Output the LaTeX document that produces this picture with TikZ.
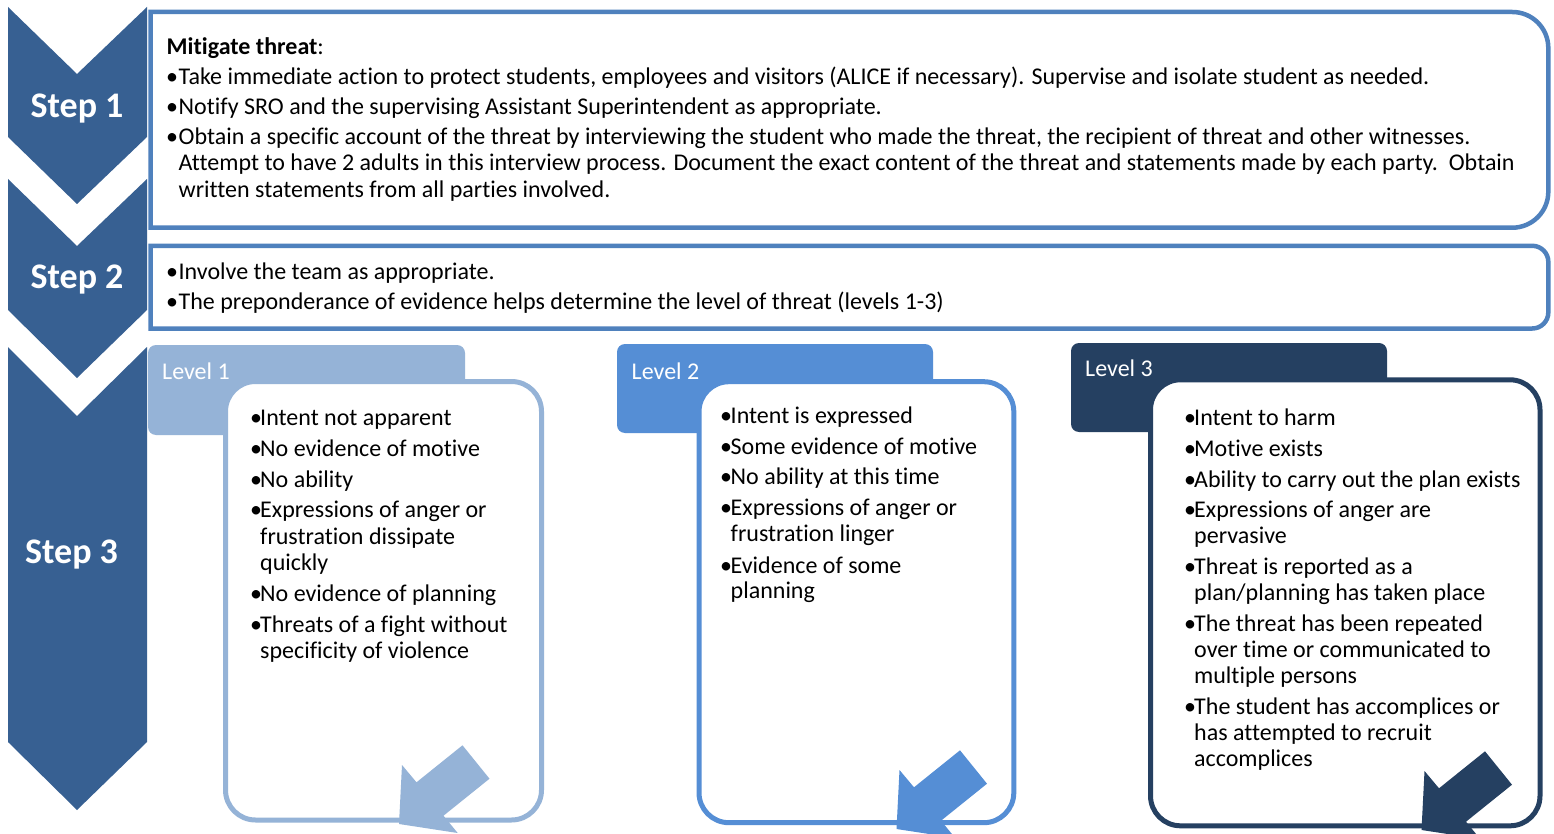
\documentclass[tikz,border=0pt]{standalone}
\usepackage{fontspec}
\setmainfont[Ligatures={NoCommon}]{Carlito}
\definecolor{chev}{HTML}{376092}
\definecolor{stepc}{HTML}{4F81BD}
\definecolor{lone}{HTML}{95B3D7}
\definecolor{ltwo}{HTML}{558ED5}
\definecolor{lthree}{HTML}{254061}
\newcommand\bulw[1]{\makebox[#1pt][l]{\textbullet}}
\newcommand\levelarrow[3]{%
  \fill[#3, shift={(#1,#2)}] (-13.5,-16.7) -- (13.5,16.7) -- (-32.5,53.7) -- (-18.3,71)
     -- (-77,62) -- (-74,3) -- (-59.5,20.3) -- cycle;}
\begin{document}
\begin{tikzpicture}[x=1pt,y=-1pt,
  txt/.style={anchor=base west, inner sep=0pt, yshift=-1.5pt, font=\fontsize{24}{26}\selectfont},
  hdr/.style={txt, text=white},
  steplbl/.style={anchor=base, inner sep=0pt, yshift=-1pt, text=white, font=\fontsize{36}{40}\selectfont\bfseries},
  stepbox/.style={draw=stepc, line width=4.5pt, fill=white},
  lvlbox/.style={fill=white, line width=5pt, rounded corners=30pt}]
\useasboundingbox (0,0) rectangle (1554,834);
\fill[white] (0,0) rectangle (1554,834);

% chevrons
\fill[chev] (8,7) -- (77,74) -- (147,7) -- (147,137) -- (77,204) -- (8,137) -- cycle;
\fill[chev] (8,179) -- (77,246) -- (147,179) -- (147,310) -- (77,378) -- (8,310) -- cycle;
\fill[chev] (8,347) -- (77,416) -- (147,347) -- (147,742) -- (77,810) -- (8,742) -- cycle;
\node[steplbl] (st1) at (77,117) {Step 1};
\node[steplbl] (st2) at (77,287) {Step 2};
\node[steplbl] (st3) at (71.5,562) {Step 3};

% step boxes
\draw[stepbox] (150.5,12) -- (1512.3,12) .. controls (1532.2,12) and (1548.3,28.1) .. (1548.3,48)
  -- (1548.3,191.7) .. controls (1548.3,211.6) and (1532.2,227.7) .. (1512.3,227.7) -- (150.5,227.7) -- cycle;
\draw[stepbox] (150.5,245.8) -- (1532.3,245.8) .. controls (1541.1,245.8) and (1548.3,253) .. (1548.3,261.8)
  -- (1548.3,312.5) .. controls (1548.3,321.3) and (1541.1,328.5) .. (1532.3,328.5) -- (150.5,328.5) -- cycle;

\node[txt] (s1h) at (166.5,53.3) {\textbf{Mitigate threat}:};
\node[txt] (s1a) at (166,83.3) {\bulw{12.5}Take immediate action to protect students, employees and visitors (ALICE if necessary). Supervise and isolate student as needed.};
\node[txt] (s1b) at (166,113.3) {\bulw{12.5}Notify SRO and the supervising Assistant Superintendent as appropriate.};
\node[txt] (s1c) at (166,143.3) {\bulw{12.5}Obtain a specific account of the threat by interviewing the student who made the threat, the recipient of threat and other witnesses.};
\node[txt] (s1d) at (178.5,169.5) {Attempt to have 2 adults in this interview process. Document the exact content of the threat and statements made by each party.\ \ Obtain};
\node[txt] (s1e) at (178.5,196) {written statements from all parties involved.};

\node[txt] (s2a) at (166,277.5) {\bulw{12.5}Involve the team as appropriate.};
\node[txt] (s2b) at (166,308) {\bulw{12.5}The preponderance of evidence helps determine the level of threat (levels 1-3)};

% level headers
\fill[lone, rounded corners=8pt] (148,345) rectangle (465,435);
\fill[ltwo, rounded corners=8pt] (617,344) rectangle (933,433);
\fill[lthree, rounded corners=8pt] (1071,343) rectangle (1387,432);
\node[hdr] (h1) at (162,378.3) {Level 1};
\node[hdr] (h2) at (631.5,378.3) {Level 2};
\node[hdr] (h3) at (1085,375) {Level 3};

% level boxes
\draw[lvlbox, draw=lone] (225.5,381.5) rectangle (541.5,820);
\draw[lvlbox, draw=ltwo] (699,381.7) rectangle (1013.8,822.7);
\draw[lvlbox, draw=lthree] (1150.5,379.8) rectangle (1540,825.8);

% level 1 text
\node[txt] (a1) at (250,424) {\bulw{10}Intent not apparent};
\node[txt] (a2) at (250,455) {\bulw{10}No evidence of motive};
\node[txt] (a3) at (250,486) {\bulw{10}No ability};
\node[txt] (a4) at (250,516) {\bulw{10}Expressions of anger or};
\node[txt] (a5) at (260,542.5) {frustration dissipate};
\node[txt] (a6) at (260,569) {quickly};
\node[txt] (a7) at (250,600) {\bulw{10}No evidence of planning};
\node[txt] (a8) at (250,631) {\bulw{10}Threats of a fight without};
\node[txt] (a9) at (260,657) {specificity of violence};

% level 2 text
\node[txt] (b1) at (720,421.7) {\bulw{10.5}Intent is expressed};
\node[txt] (b2) at (720,452.7) {\bulw{10.5}Some evidence of motive};
\node[txt] (b3) at (720,483.3) {\bulw{10.5}No ability at this time};
\node[txt] (b4) at (720,514) {\bulw{10.5}Expressions of anger or};
\node[txt] (b5) at (730.5,540) {frustration linger};
\node[txt] (b6) at (720,571.7) {\bulw{10.5}Evidence of some};
\node[txt] (b7) at (730.5,597.3) {planning};

% level 3 text
\node[txt] (c1) at (1184,424) {\bulw{10}Intent to harm};
\node[txt] (c2) at (1184,455) {\bulw{10}Motive exists};
\node[txt] (c3) at (1184,485.5) {\bulw{10}Ability to carry out the plan exists};
\node[txt] (c4) at (1184,516) {\bulw{10}Expressions of anger are};
\node[txt] (c5) at (1194,542) {pervasive};
\node[txt] (c6) at (1184,573) {\bulw{10}Threat is reported as a};
\node[txt] (c7) at (1194,599) {plan/planning has taken place};
\node[txt] (c8) at (1184,630) {\bulw{10}The threat has been repeated};
\node[txt] (c9) at (1194,656) {over time or communicated to};
\node[txt] (c10) at (1194,682) {multiple persons};
\node[txt] (c11) at (1184,713) {\bulw{10}The student has accomplices or};
\node[txt] (c12) at (1194,739) {has attempted to recruit};
\node[txt] (c13) at (1194,765) {accomplices};

% arrows
\levelarrow{476}{762}{lone}
\levelarrow{973.5}{767}{ltwo}
\levelarrow{1498.5}{768}{lthree}
\end{tikzpicture}
\end{document}
